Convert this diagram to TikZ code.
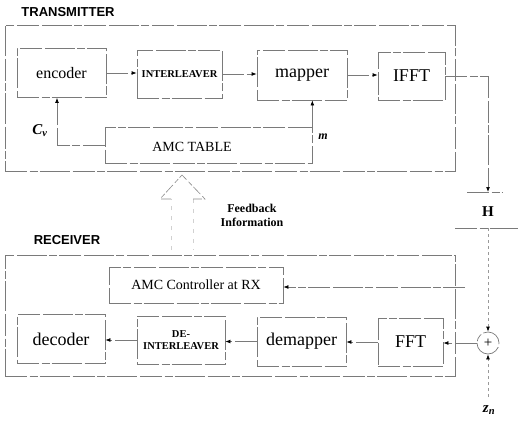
\documentclass[tikz,border=0pt]{standalone}
\usepackage{fontspec}
\setmainfont{Liberation Serif}
\newfontfamily\hdrfont{Liberation Sans}
\usetikzlibrary{arrows.meta}
\newcommand\myfs[1]{\fontsize{#1}{#1}\selectfont}
\begin{document}
\begin{tikzpicture}[x=1pt,y=-1pt,
  ln/.style={draw=black!52, line width=0.7pt, dash pattern=on 22pt off 2.5pt on 8pt off 2pt on 30pt off 3pt},
  blk/.style={ln, rectangle, inner sep=0pt, anchor=center},
  arr/.style={ln, -{Latex[length=5pt,width=3.8pt,color=black]}},
  hdr/.style={font=\hdrfont\bfseries\myfs{13}, inner sep=0pt},
  lbl/.style={font=\bfseries\itshape\myfs{15}, inner sep=0pt},
  wrd/.style={font=\myfs{18}}]
\useasboundingbox (0,0) rectangle (518,425);

% outer frames
\node[hdr] (txlabel) at (68,12) {TRANSMITTER};
\node[blk, minimum width=450pt, minimum height=146pt] (tx) at (230,98) {};
\node[hdr] (rxlabel) at (67,240) {RECEIVER};
\node[blk, minimum width=450pt, minimum height=121pt] (rx) at (230,315.5) {};

% transmitter blocks
\node[blk, minimum width=89pt, minimum height=49pt, font=\myfs{16}] (enc) at (61.5,73) {encoder};
\node[blk, minimum width=85pt, minimum height=48pt, font=\bfseries\myfs{10.5}] (intl) at (179.5,74) {INTERLEAVER};
\node[blk, minimum width=90pt, minimum height=50pt, wrd] (map) at (302,75) {mapper};
\node[blk, minimum width=67pt, minimum height=48pt, wrd] (ifft) at (411.5,76) {IFFT};
\node[blk, minimum width=207pt, minimum height=36pt] (amc) at (208.5,145) {};
\node[font=\myfs{14}, inner sep=0pt] (amctxt) at (192,147) {AMC TABLE};

\draw[arr] (enc.east) -- (enc.east -| intl.west);
\draw[arr] (intl.east) -- (intl.east -| map.west);
\draw[arr] (map.east) -- (map.east -| ifft.west);
\draw[arr] (amc.west) -| ([xshift=-4.5pt]enc.south);
\draw[arr] (amc.north east) -- (amc.north east |- map.south);
\node[lbl] (cv) at (40,131) {C\textsubscript{v}};
\node[lbl, font=\bfseries\itshape\myfs{12}] (mlbl) at (323,137) {m};

% channel
\coordinate (htop) at (488,192);
\coordinate (hbot) at (488,228);
\coordinate (htl) at (467,192);
\coordinate (htr) at (503,192);
\coordinate (hbl) at (455,228);
\coordinate (hbr) at (518,228);
\draw[ln] (htl) -- (htr);
\draw[ln] (hbl) -- (hbr);
\node[font=\bfseries\myfs{15}, inner sep=0pt] (H) at (488,212) {H};
\draw[arr] (ifft.east) -| (htop);

% adder and noise
\node[ln, circle, minimum size=22pt, inner sep=0pt, font=\myfs{15}] (add) at (488,343) {+};
\draw[arr, draw=black!40, dash pattern=on 3pt off 3pt] (hbot) -- (add.north);
\coordinate (zn) at (488,397);
\draw[arr, draw=black!40, dash pattern=on 3pt off 3pt] (zn) -- (add.south);
\node[lbl] (znlbl) at (489,410) {z\textsubscript{n}};

% receiver blocks
\node[blk, minimum width=65pt, minimum height=48pt, wrd] (fft) at (410.5,342) {FFT};
\node[blk, minimum width=89pt, minimum height=49pt, wrd] (demap) at (301.5,341.5) {demapper};
\node[blk, minimum width=88pt, minimum height=48pt, font=\bfseries\myfs{10.5}, align=center] (deint) at (181,340) {DE-\\[1pt]INTERLEAVER};
\node[blk, minimum width=88pt, minimum height=49pt, wrd] (dec) at (61,339) {decoder};
\node[blk, minimum width=174pt, minimum height=36pt, font=\myfs{14}] (amcrx) at (196,285) {AMC Controller at RX};

\draw[arr] (add.west) -- (add.west -| fft.east);
\draw[arr] (fft.west) -- (fft.west -| demap.east);
\draw[arr] (demap.west) -- (demap.west -| deint.east);
\draw[arr] (deint.west) -- (deint.west -| dec.east);
\coordinate (csi) at (465,287);
\draw[arr] (csi) -- (csi -| amcrx.east);

% feedback block arrow
\draw[draw=black!18, line width=0.5pt, dash pattern=on 4pt off 6pt]
  (171,250) -- (171,199) (193,199) -- (193,250);
\draw[draw=black!45, line width=0.6pt, dash pattern=on 10pt off 3pt on 5pt off 2pt]
  (171,199) -- (160,199) -- (182,175) -- (205,199) -- (193,199);
\node[font=\bfseries\myfs{12}, align=center, inner sep=0pt] (fb) at (252,215) {Feedback\\[2pt]Information};
\end{tikzpicture}
\end{document}
